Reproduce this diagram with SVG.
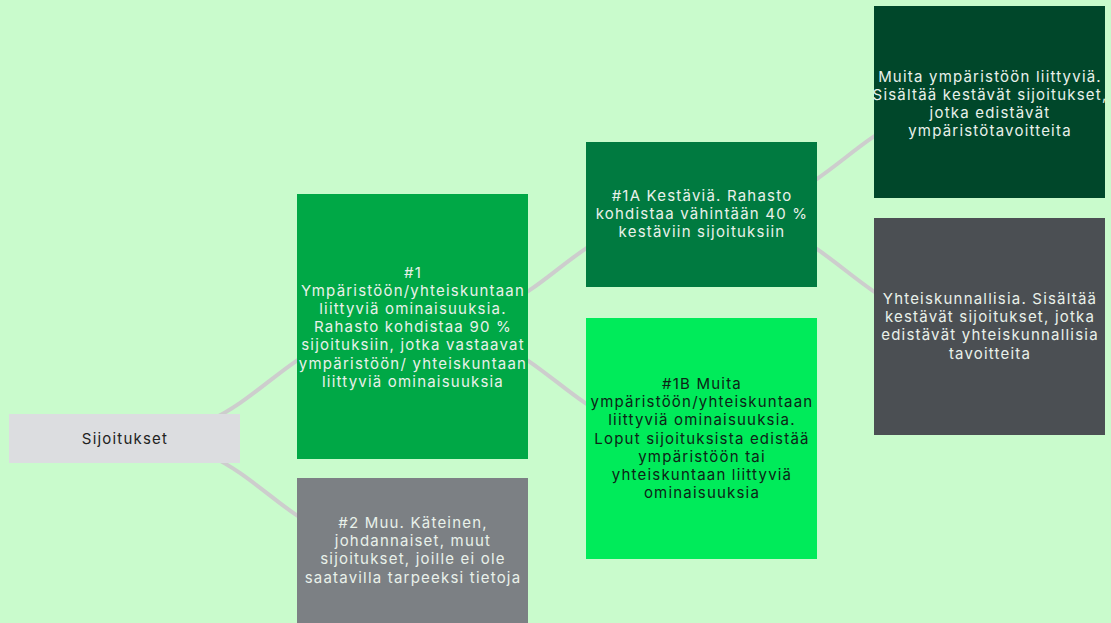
<svg xmlns="http://www.w3.org/2000/svg" width="1111" height="623" viewBox="0 0 1111 623">
<style>
.bg{fill:#c9fbcc}
.conn path{fill:none;stroke:#cdcdcd;stroke-width:4}
text{font-family:Inter,"Open Sans","Liberation Sans",sans-serif;font-size:15px;letter-spacing:1.2px;text-anchor:middle}
.lt{fill:#e9f1ea}
.dk{fill:#0d2416}
</style>
<rect class="bg" x="0" y="0" width="1111" height="623"/>
<g id="connectors" class="conn">
<path d="M125,438 C268,438 268,326 412,326"/>
<path d="M125,438 C268,438 268,550 412,550"/>
<path d="M412,326 C557,326 557,214 701,214"/>
<path d="M412,326 C557,326 557,438 701,438"/>
<path d="M701,214 C845,214 845,102 989,102"/>
<path d="M701,214 C845,214 845,326 989,326"/>
</g>
<g id="n0">
<rect x="9" y="414" width="231" height="49" fill="#dcdde0"/>
<text x="125" y="443.5" fill="#222">Sijoitukset</text>
</g>
<g id="n1">
<rect x="297" y="194" width="231" height="265" fill="#00a846"/>
<text class="lt"><tspan x="413" y="277.5">#1</tspan><tspan x="413" y="295.7">Ympäristöön/yhteiskuntaan</tspan><tspan x="413" y="313.9">liittyviä ominaisuuksia.</tspan><tspan x="413" y="332.1">Rahasto kohdistaa 90 %</tspan><tspan x="413" y="350.3">sijoituksiin, jotka vastaavat</tspan><tspan x="413" y="368.5">ympäristöön/ yhteiskuntaan</tspan><tspan x="413" y="386.7">liittyviä ominaisuuksia</tspan></text>
</g>
<g id="n2">
<rect x="297" y="478" width="231" height="145" fill="#7c8084"/>
<text class="lt"><tspan x="413" y="528">#2 Muu. Käteinen,</tspan><tspan x="413" y="546.2">johdannaiset, muut</tspan><tspan x="413" y="564.4">sijoitukset, joille ei ole</tspan><tspan x="413" y="582.6">saatavilla tarpeeksi tietoja</tspan></text>
</g>
<g id="n1a">
<rect x="586" y="142" width="231" height="145" fill="#007a40"/>
<text class="lt"><tspan x="702" y="201">#1A Kestäviä. Rahasto</tspan><tspan x="702" y="219.2">kohdistaa vähintään 40 %</tspan><tspan x="702" y="237.4">kestäviin sijoituksiin</tspan></text>
</g>
<g id="n1b">
<rect x="586" y="318" width="231" height="241" fill="#00eb5a"/>
<text class="dk"><tspan x="702" y="389">#1B Muita</tspan><tspan x="702" y="407.2">ympäristöön/yhteiskuntaan</tspan><tspan x="702" y="425.4">liittyviä ominaisuuksia.</tspan><tspan x="702" y="443.6">Loput sijoituksista edistää</tspan><tspan x="702" y="461.8">ympäristöön tai</tspan><tspan x="702" y="480">yhteiskuntaan liittyviä</tspan><tspan x="702" y="498.2">ominaisuuksia</tspan></text>
</g>
<g id="n3">
<rect x="874" y="6" width="231" height="192" fill="#00472a"/>
<text class="lt"><tspan x="990" y="81.5">Muita ympäristöön liittyviä.</tspan><tspan x="990" y="99.7">Sisältää kestävät sijoitukset,</tspan><tspan x="990" y="117.9">jotka edistävät</tspan><tspan x="990" y="136.1">ympäristötavoitteita</tspan></text>
</g>
<g id="n4">
<rect x="874" y="218" width="231" height="217" fill="#4b4f53"/>
<text class="lt"><tspan x="990" y="304">Yhteiskunnallisia. Sisältää</tspan><tspan x="990" y="322.2">kestävät sijoitukset, jotka</tspan><tspan x="990" y="340.4">edistävät yhteiskunnallisia</tspan><tspan x="990" y="358.6">tavoitteita</tspan></text>
</g>
</svg>
